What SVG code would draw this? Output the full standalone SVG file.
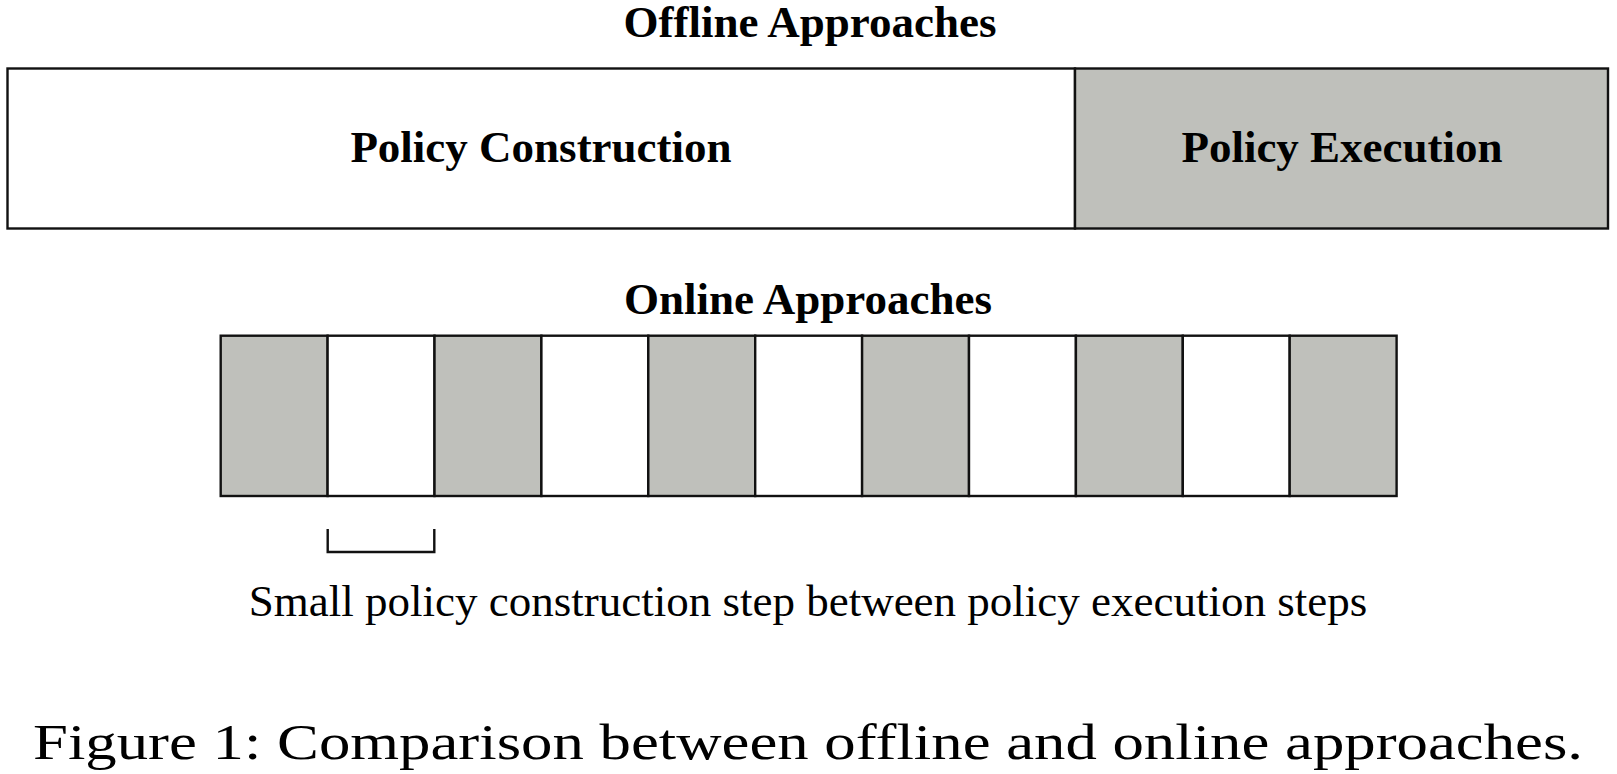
<svg xmlns="http://www.w3.org/2000/svg" width="1617" height="774" viewBox="0 0 1617 774">
<style>
.box{stroke:#111;stroke-width:2.4;}
.g{fill:#bfc0bb;}
.w{fill:#ffffff;}
.tb{font-family:"Liberation Serif","Times New Roman",serif;font-weight:bold;font-size:45px;fill:#000;text-anchor:middle;}
.tr{font-family:"Liberation Serif","Times New Roman",serif;font-size:45px;fill:#000;text-anchor:middle;}
</style>
<rect width="1617" height="774" fill="#ffffff"/>
<g id="title-offline"><text class="tb" x="810" y="37">Offline Approaches</text></g>
<g id="policy-construction">
<rect class="box w" x="7.5" y="68.5" width="1067.5" height="160"/>
<text class="tb" x="541" y="162">Policy Construction</text>
</g>
<g id="policy-execution">
<rect class="box g" x="1075" y="68.5" width="533" height="160"/>
<text class="tb" x="1342" y="162">Policy Execution</text>
</g>
<g id="title-online"><text class="tb" x="808" y="314">Online Approaches</text></g>
<g id="online-steps">
<rect class="box g" x="220.7" y="335.7" width="106.9" height="160.3"/>
<rect class="box w" x="327.6" y="335.7" width="106.9" height="160.3"/>
<rect class="box g" x="434.5" y="335.7" width="106.9" height="160.3"/>
<rect class="box w" x="541.4" y="335.7" width="106.9" height="160.3"/>
<rect class="box g" x="648.3" y="335.7" width="106.9" height="160.3"/>
<rect class="box w" x="755.2" y="335.7" width="106.9" height="160.3"/>
<rect class="box g" x="862.1" y="335.7" width="106.9" height="160.3"/>
<rect class="box w" x="969.0" y="335.7" width="106.9" height="160.3"/>
<rect class="box g" x="1075.9" y="335.7" width="106.9" height="160.3"/>
<rect class="box w" x="1182.8" y="335.7" width="106.9" height="160.3"/>
<rect class="box g" x="1289.7" y="335.7" width="106.9" height="160.3"/>
</g>
<g id="connectors">
<path d="M327.7,529 V552 H434.3 V529" fill="none" stroke="#111" stroke-width="2.4"/>
</g>
<g id="bracket-label"><text class="tr" x="808" y="616">Small policy construction step between policy execution steps</text></g>
<g id="caption"><text x="33" y="759" font-family="'Liberation Serif','Times New Roman',serif" font-size="51" fill="#000" textLength="1550" lengthAdjust="spacingAndGlyphs">Figure 1: Comparison between offline and online approaches.</text></g>
</svg>
